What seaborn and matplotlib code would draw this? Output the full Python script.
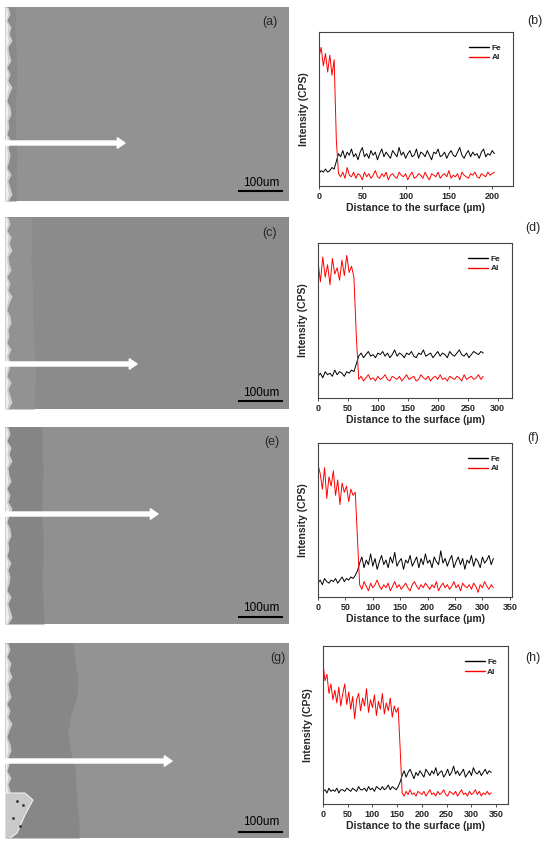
import numpy as np
import pandas as pd
import matplotlib
matplotlib.use("Agg")
import matplotlib.pyplot as plt
import seaborn as sns

# ---------------- line-scan data (arbitrary intensity units) ----------------
step_b = 2.5
al_b = [84, 90, 78, 86, 74, 85, 72, 82, 30,
        8, 6, 9, 5, 12, 7, 6, 9, 5, 8,
        7, 4, 9, 6, 8, 5, 7, 10, 6, 5,
        8, 6, 9, 4, 7, 8, 6, 5, 9, 7,
        6, 8, 4, 7, 9, 5, 6, 8, 7, 5,
        9, 6, 4, 8, 7, 6, 9, 5, 7, 8,
        6, 10, 5, 7, 6, 8, 4, 9, 7, 6,
        5, 8, 7, 9, 6, 5, 8, 7, 6, 9,
        7, 8, 9]
fe_b = [8, 10, 9, 11, 9, 10, 12, 11, 16,
        21, 19, 23, 18, 22, 20, 24, 19, 21, 17,
        22, 25, 19, 21, 18, 23, 20, 22, 17, 21,
        24, 19, 22, 20, 18, 23, 21, 19, 25, 20,
        22, 18, 21, 23, 19, 20, 24, 18, 22, 21,
        19, 23, 20, 17, 22, 21, 24, 19, 20, 22,
        18, 21, 23, 20, 19, 22, 25, 20, 18, 21,
        23, 19, 22, 20, 21, 18, 22, 24, 19, 21,
        20, 23, 21]

step_d = 4
al_d = [88, 75, 91, 78, 86, 73, 90, 80, 84, 76, 89, 79, 92, 81, 85, 78, 40,
        12, 14, 11, 13, 15, 12, 13, 11, 14, 12,
        13, 15, 12, 11, 14, 13, 12, 14, 11, 13,
        15, 12, 13, 14, 11, 12, 15, 13, 12, 14,
        11, 13, 14, 12, 15, 12, 13, 11, 14, 13,
        12, 14, 13, 11, 15, 12, 13, 14, 12, 13,
        15, 12, 14]
fe_d = [14, 16, 13, 17, 15, 16, 14, 18, 15, 17, 16, 14, 17, 16, 18, 17, 22,
        27, 29, 26, 28, 30, 27, 28, 26, 29, 28,
        30, 27, 29, 26, 28, 31, 27, 29, 28, 26,
        29, 28, 30, 27, 26, 29, 28, 31, 27, 28,
        29, 26, 28, 30, 27, 29, 28, 26, 30, 28,
        27, 29, 31, 28, 27, 29, 26, 28, 30, 29,
        28, 30, 29]

step_f = 4
al_f = [86, 80, 70, 84, 64, 78, 72, 82, 66, 76, 60, 74, 68, 72, 62, 70, 66, 68, 38,
        8, 5, 10, 7, 4, 9, 6, 8, 11, 7,
        5, 8, 6, 9, 4, 7, 10, 6, 8, 5,
        7, 9, 6, 4, 8, 10, 7, 5, 8, 6,
        9, 7, 5, 8, 6, 10, 4, 7, 9, 6,
        8, 5, 7, 10, 6, 8, 4, 9, 7, 6,
        8, 5, 9, 7, 3, 8, 6, 10, 7, 5,
        8, 6]
fe_f = [9, 11, 8, 12, 10, 9, 11, 10, 12, 9, 11, 13, 10, 12, 11, 13, 12, 14, 17,
        22, 26, 19, 24, 21, 28, 20, 25, 18, 23,
        27, 21, 24, 19, 26, 22, 29, 20, 23, 25,
        18, 24, 22, 27, 20, 23, 26, 19, 25, 21,
        28, 22, 24, 19, 26, 23, 21, 30, 22, 25,
        20, 24, 27, 19, 23, 26, 21, 25, 18, 24,
        22, 27, 20, 25, 23, 19, 26, 22, 24, 27,
        21, 25]

step_h = 4
al_h = [89, 78, 82, 70, 76, 66, 72, 64, 74, 62,
        70, 76, 63, 71, 60, 68, 54, 66, 70, 59,
        67, 62, 73, 58, 66, 61, 69, 56, 65, 60,
        70, 57, 64, 59, 67, 55, 62, 58, 61, 35,
        7, 5, 8, 6, 9, 6, 7, 5, 8, 7,
        6, 8, 5, 7, 9, 6, 7, 5, 8, 6,
        7, 9, 6, 5, 8, 7, 6, 8, 5, 7,
        9, 6, 7, 5, 8, 6, 7, 9, 6, 8,
        5, 7, 6, 8, 6, 7]
fe_h = [8, 9, 7, 10, 8, 9, 8, 10, 7, 9,
        9, 8, 10, 9, 8, 10, 9, 8, 11, 9,
        9, 10, 8, 11, 9, 10, 8, 11, 10, 9,
        11, 9, 10, 12, 9, 11, 10, 9, 11, 14,
        18, 21, 17, 20, 22, 19, 16, 20, 18, 21,
        19, 17, 22, 20, 18, 21, 19, 23, 18, 20,
        21, 17, 19, 22, 18, 20, 24, 19, 21, 18,
        20, 22, 17, 19, 21, 18, 23, 20, 19, 21,
        18, 20, 22, 19, 21, 20]

ticks_b = [0, 50, 100, 150, 200]
ticks_d = [0, 50, 100, 150, 200, 250, 300]
ticks_fh = [0, 50, 100, 150, 200, 250, 300, 350]

# ---------------- micrograph outlines (pixel units inside each image) ----------------
edge_w = [3, 5, 2, 6, 4, 7, 3, 4, 6, 2, 5, 3, 7, 4, 2, 5, 6, 3, 4, 2,
          6, 3, 5, 4, 2, 6, 3, 5, 7, 3]
bnd_a = [11, 10, 11, 12, 11, 10, 11, 12, 11, 11]
bnd_c = [27, 27, 26, 27, 28, 28, 29, 31, 30, 29]
bnd_e = [37, 37, 38, 37, 37, 38, 38, 37, 38, 39]
bnd_g = [68, 70, 73, 72, 66, 63, 65, 70, 71, 72, 74, 74]

sns.set_style("ticks")
plt.rcParams['font.family'] = ['Liberation Sans', 'DejaVu Sans']

W, H = 550, 844
fig = plt.figure(figsize=(W / 100, H / 100), dpi=100)


def rect(x0, y0, x1, y1):
    return [x0 / W, 1 - y1 / H, (x1 - x0) / W, (y1 - y0) / H]


def sem(box, label, label_xy, substrate, layer_col, bnd, arrow_y, arrow_end,
        text_y, bar_y, particle=False):
    ax = fig.add_axes(rect(*box))
    w = box[2] - box[0]
    h = box[3] - box[1]
    ax.set_xlim(0, w)
    ax.set_ylim(h, 0)
    ax.set_facecolor(substrate)
    yb = np.linspace(0, h, len(bnd))
    ax.fill_betweenx(yb, 0, bnd, color=layer_col, lw=0)
    ye = np.linspace(0, h, len(edge_w))
    ax.fill_betweenx(ye, 0, edge_w, color='#cfcfcf', lw=0)
    ax.fill_betweenx(ye, 0, np.array(edge_w) * 0.5, color='#f0f0f0', lw=0)
    if particle:
        ax.fill([0, 20, 28, 20, 12, 4, 0], [150, 150, 157, 172, 190, 196, 196],
                color='#c9c9c9', lw=0.8, ec='#eeeeee')
        ax.scatter([12, 18, 8, 15], [158, 162, 175, 183], s=4, color='#333333', lw=0)
    ax.annotate('', xy=(arrow_end, arrow_y), xytext=(-3, arrow_y),
                arrowprops=dict(facecolor='white', edgecolor='white', width=2.9,
                                headwidth=7.5, headlength=5.5, shrink=0))
    ax.text(256, text_y, '100um', ha='center', va='center', fontsize=8.5, color='black')
    ax.plot([233, 278], [bar_y, bar_y], color='black', lw=1.5, solid_capstyle='butt')
    ax.text(label_xy[0], label_xy[1], label, ha='center', va='center', fontsize=9)
    ax.set_xticks([])
    ax.set_yticks([])
    for s in ax.spines.values():
        s.set_visible(False)


def scan(box, step, fe, al, xmax, xticks, plabel, plabel_xy):
    ax = fig.add_axes(rect(*box))
    df = pd.DataFrame({
        'Distance': np.concatenate([np.arange(len(fe)) * step, np.arange(len(al)) * step]),
        'Intensity': fe + al,
        'Element': ['Fe'] * len(fe) + ['Al'] * len(al),
    })
    sns.lineplot(data=df, x='Distance', y='Intensity', hue='Element',
                 palette={'Fe': 'black', 'Al': 'red'}, lw=0.7, ax=ax, estimator=None)
    ax.set_xlim(0, xmax)
    ax.set_ylim(0, 100)
    ax.set_xticks(xticks)
    ax.set_yticks([])
    ax.tick_params(axis='x', length=2.5, width=0.6, pad=1.5, labelsize=6.5, color='#333333')
    for t in ax.get_xticklabels():
        t.set_fontweight('bold')
    for s in ax.spines.values():
        s.set_visible(True)
        s.set_color('#444444')
        s.set_linewidth(0.8)
    ax.set_xlabel('Distance to the surface (\u00b5m)', fontsize=7.5, fontweight='bold', labelpad=2)
    ax.set_ylabel('Intensity (CPS)', fontsize=7.5, fontweight='bold', labelpad=7)
    handles, labels = ax.get_legend_handles_labels()
    leg = ax.legend(handles, labels, loc='upper right', bbox_to_anchor=(0.98, 0.97), frameon=False,
                    prop={'size': 6, 'weight': 'bold'}, handlelength=2.4, handletextpad=0.3,
                    labelspacing=0.2)
    for hl in leg.legend_handles:
        hl.set_linewidth(1.0)
    fig.text(plabel_xy[0] / W, 1 - plabel_xy[1] / H, plabel, ha='center', va='center', fontsize=9)


sem((5, 7, 289, 201), '(a)', (265, 15), '#929292', '#8a8a8a', bnd_a, 136, 120, 176, 184)
sem((5, 217, 289, 409), '(c)', (265, 16), '#8b8b8b', '#929292', bnd_c, 147, 132, 176, 184)
sem((5, 427, 289, 624), '(e)', (267, 15), '#909090', '#858585', bnd_e, 87, 153, 181, 190)
sem((5, 643, 289, 838), '(g)', (273, 15), '#939393', '#878787', bnd_g, 118, 167, 179, 189,
    particle=True)

scan((319, 32, 513, 186), step_b, fe_b, al_b, 224, ticks_b, '(b)', (535, 21))
scan((318, 243, 512, 398), step_d, fe_d, al_d, 324, ticks_d, '(d)', (533, 228))
scan((318, 443, 512, 597), step_f, fe_f, al_f, 354, ticks_fh, '(f)', (533, 438))
scan((323, 646, 508, 804), step_h, fe_h, al_h, 374, ticks_fh, '(h)', (533, 658))

fig.savefig('out.png', dpi=100, facecolor='white')
